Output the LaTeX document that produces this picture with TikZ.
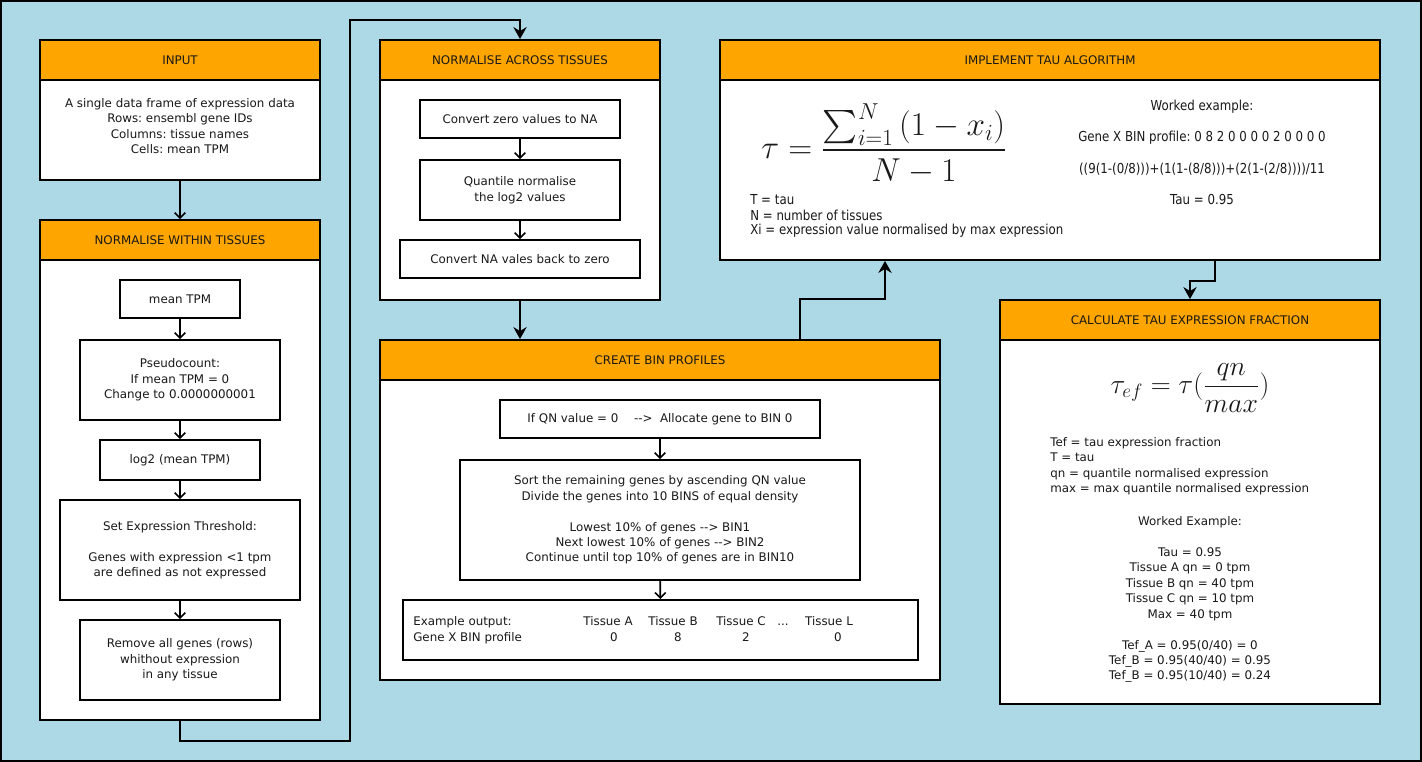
\documentclass[tikz,border=0pt]{standalone}
\usepackage{amsmath}
\usepackage{fontspec}
\setmainfont{DejaVu Sans}
\newfontfamily\cond{DejaVu Sans}[FakeStretch=0.86]
\usetikzlibrary{arrows.meta}
\definecolor{bg}{HTML}{ADD8E6}
\definecolor{hd}{HTML}{FFA500}
\frenchspacing
\begin{document}
\begin{tikzpicture}[x=0.75pt,y=-0.75pt,
  every node/.style={font=\fontsize{8.9pt}{11.6pt}\selectfont, text=black!90},
  hdr/.style={draw, fill=hd, line width=1.4pt, minimum height=30pt, inner sep=0pt},
  body/.style={draw, fill=white, line width=1.4pt, inner sep=0pt},
  stepbox/.style={draw, fill=white, line width=1.4pt, inner sep=0pt, align=center},
  txt/.style={inner sep=0pt, align=center},
  etxt/.style={inner sep=0pt, text height=6.8pt, text depth=1.8pt},
  ltxt/.style={inner sep=0pt, align=left, anchor=west},
  ctxt/.style={inner sep=0pt, align=left, anchor=west, font=\cond\fontsize{10.3pt}{11.6pt}\selectfont},
  oarr/.style={-{Straight Barb[length=4pt,width=8pt,line width=1.2pt]}, line width=1.3pt},
  farr/.style={-{Stealth[length=9pt,width=10pt,inset=3pt]}, line width=1.3pt}]
\useasboundingbox (0,0) rectangle (1422,762);
\fill[bg] (0,0) rectangle (1422,762);
\draw[line width=1.5pt] (1,1) rectangle (1421,761);

% INPUT
\node[hdr, minimum width=210pt] (inH) at (180,60) {INPUT};
\node[body, minimum width=210pt, minimum height=75pt] (inB) at (180,130) {};
\node[txt] (inT) at (180,126) {A single data frame of expression data\\Rows: ensembl gene IDs\\Columns: tissue names\\Cells: mean TPM};

% NORMALISE WITHIN
\node[hdr, minimum width=210pt] (nwH) at (180,240) {NORMALISE WITHIN TISSUES};
\node[body, minimum width=210pt, minimum height=345pt] (nwB) at (180,490) {};
\node[stepbox, minimum width=90pt, minimum height=28.5pt] (s1) at (180,299) {mean TPM};
\node[stepbox, minimum width=150pt, minimum height=60pt] (s2) at (180,380) {Pseudocount:\\If mean TPM = 0\\Change to 0.0000000001};
\node[stepbox, minimum width=120pt, minimum height=30pt] (s3) at (180,460) {log2 (mean TPM)};
\node[stepbox, minimum width=180pt, minimum height=75pt] (s4) at (180,550) {Set Expression Threshold:\\[11.6pt]Genes with expression <1 tpm\\ are defined as not expressed};
\node[stepbox, minimum width=150pt, minimum height=60pt] (s5) at (180,660) {Remove all genes (rows)\\whithout expression\\ in any tissue};

% NORMALISE ACROSS
\node[hdr, minimum width=210pt] (naH) at (520,60) {NORMALISE ACROSS TISSUES};
\node[body, minimum width=210pt, minimum height=165pt] (naB) at (520,190) {};
\node[stepbox, minimum width=150pt, minimum height=28.5pt] (a1) at (520,119) {Convert zero values to NA};
\node[stepbox, minimum width=150pt, minimum height=45pt] (a2) at (520,190) {Quantile normalise\\ the log2 values};
\node[stepbox, minimum width=180pt, minimum height=28.5pt] (a3) at (520,259) {Convert NA vales back to zero};

% CREATE BIN PROFILES
\node[hdr, minimum width=420pt] (cbH) at (660,360) {CREATE BIN PROFILES};
\node[body, minimum width=420pt, minimum height=225pt] (cbB) at (660,530) {};
\node[stepbox, minimum width=240pt, minimum height=28.5pt] (b1) at (660,419) {If QN value = 0\quad{} -{}->\ \ Allocate gene to BIN 0};
\node[stepbox, minimum width=300pt, minimum height=90pt] (b2) at (660,520) {Sort the remaining genes by ascending QN value\\Divide the genes into 10 BINS of equal density\\[11.6pt]Lowest 10\% of genes -{}-> BIN1\\Next lowest 10\% of genes -{}-> BIN2\\Continue until top 10\% of genes are in BIN10};
\node[stepbox, minimum width=386pt, minimum height=45pt] (b3) at (660.5,630) {};
\node[etxt, anchor=west] (e1) at (413,622) {Example output:};
\node[etxt, anchor=west] (e2) at (413,638) {Gene X BIN profile};
\node[etxt] (e3) at (608,622) {Tissue A};
\node[etxt] (e4) at (673,622) {Tissue B};
\node[etxt] (e5) at (741,622) {Tissue C};
\node[etxt] (e6) at (783,622) {...};
\node[etxt] (e7) at (829,622) {Tissue L};
\node[etxt] (e8) at (614,638) {0};
\node[etxt] (e9) at (678,638) {8};
\node[etxt] (e10) at (746,638) {2};
\node[etxt] (e11) at (838,638) {0};

% TAU
\node[hdr, minimum width=495pt] (tH) at (1050,60) {IMPLEMENT TAU ALGORITHM};
\node[body, minimum width=495pt, minimum height=135pt] (tB) at (1050,170) {};
\node[inner sep=0pt, font=\fontsize{25pt}{30pt}\selectfont] (tF) at (884,144) {$\displaystyle \tau = \frac{\sum_{i=1}^{N}\,(1-x_i)}{N-1}$};
\node[ctxt] (tL1) at (750,200) {T = tau};
\node[ctxt] (tL2) at (750,215) {N = number of tissues};
\node[ctxt] (tL3) at (750,231) {Xi = expression value normalised by max expression};
\node[ctxt, anchor=center] (tR1) at (1202,107) {Worked example:};
\node[ctxt, anchor=center] (tR2) at (1202,138) {Gene X BIN profile: 0 8 2 0 0 0 0 2 0 0 0 0};
\node[ctxt, anchor=center] (tR3) at (1202,169) {((9(1-(0/8)))+(1(1-(8/8)))+(2(1-(2/8))))/11};
\node[ctxt, anchor=center] (tR4) at (1202,200) {Tau = 0.95};

% CALC
\node[hdr, minimum width=285pt] (cH) at (1190,320) {CALCULATE TAU EXPRESSION FRACTION};
\node[body, minimum width=285pt, minimum height=273pt] (cB) at (1190,522) {};
\node[inner sep=0pt, font=\fontsize{22pt}{27pt}\selectfont] (cF) at (1190,388) {$\displaystyle \tau_{ef} = \tau(\frac{qn}{max})$};
\node[ltxt, anchor=north west] (cL) at (1050,437) {Tef = tau expression fraction\\T = tau\\qn = quantile normalised expression\\max = max quantile normalised expression};
\node[txt, anchor=north] (cW) at (1190,516) {Worked Example:\\[11.6pt]Tau = 0.95\\Tissue A qn = 0 tpm\\Tissue B qn = 40 tpm\\Tissue C qn = 10 tpm\\Max = 40 tpm\\[11.6pt]Tef\_A = 0.95(0/40) = 0\\Tef\_B = 0.95(40/40) = 0.95\\Tef\_B = 0.95(10/40) = 0.24};

% connectors
\draw[oarr] (inB.south) -- (nwH.north);
\draw[oarr] (s1) -- (s2);
\draw[oarr] (s2) -- (s3);
\draw[oarr] (s3) -- (s4);
\draw[oarr] (s4) -- (s5);
\draw[oarr] (a1) -- (a2);
\draw[oarr] (a2) -- (a3);
\draw[oarr] (b1) -- (b2);
\draw[oarr] (b2) -- (b3);
\coordinate (k1) at (350,20);
\draw[farr] (nwB.south) -- ++(0,20) -| (k1) -| (naH.north);
\draw[farr] (naB.south) -- (naB.south |- cbH.north);
\draw[farr] ([xshift=105pt]cbH.north) -- ++(0,-40) -| ([xshift=-123.75pt]tB.south);
\draw[farr] ([xshift=123.75pt]tB.south) -- ++(0,20) -| (cH.north);
\end{tikzpicture}
\end{document}
